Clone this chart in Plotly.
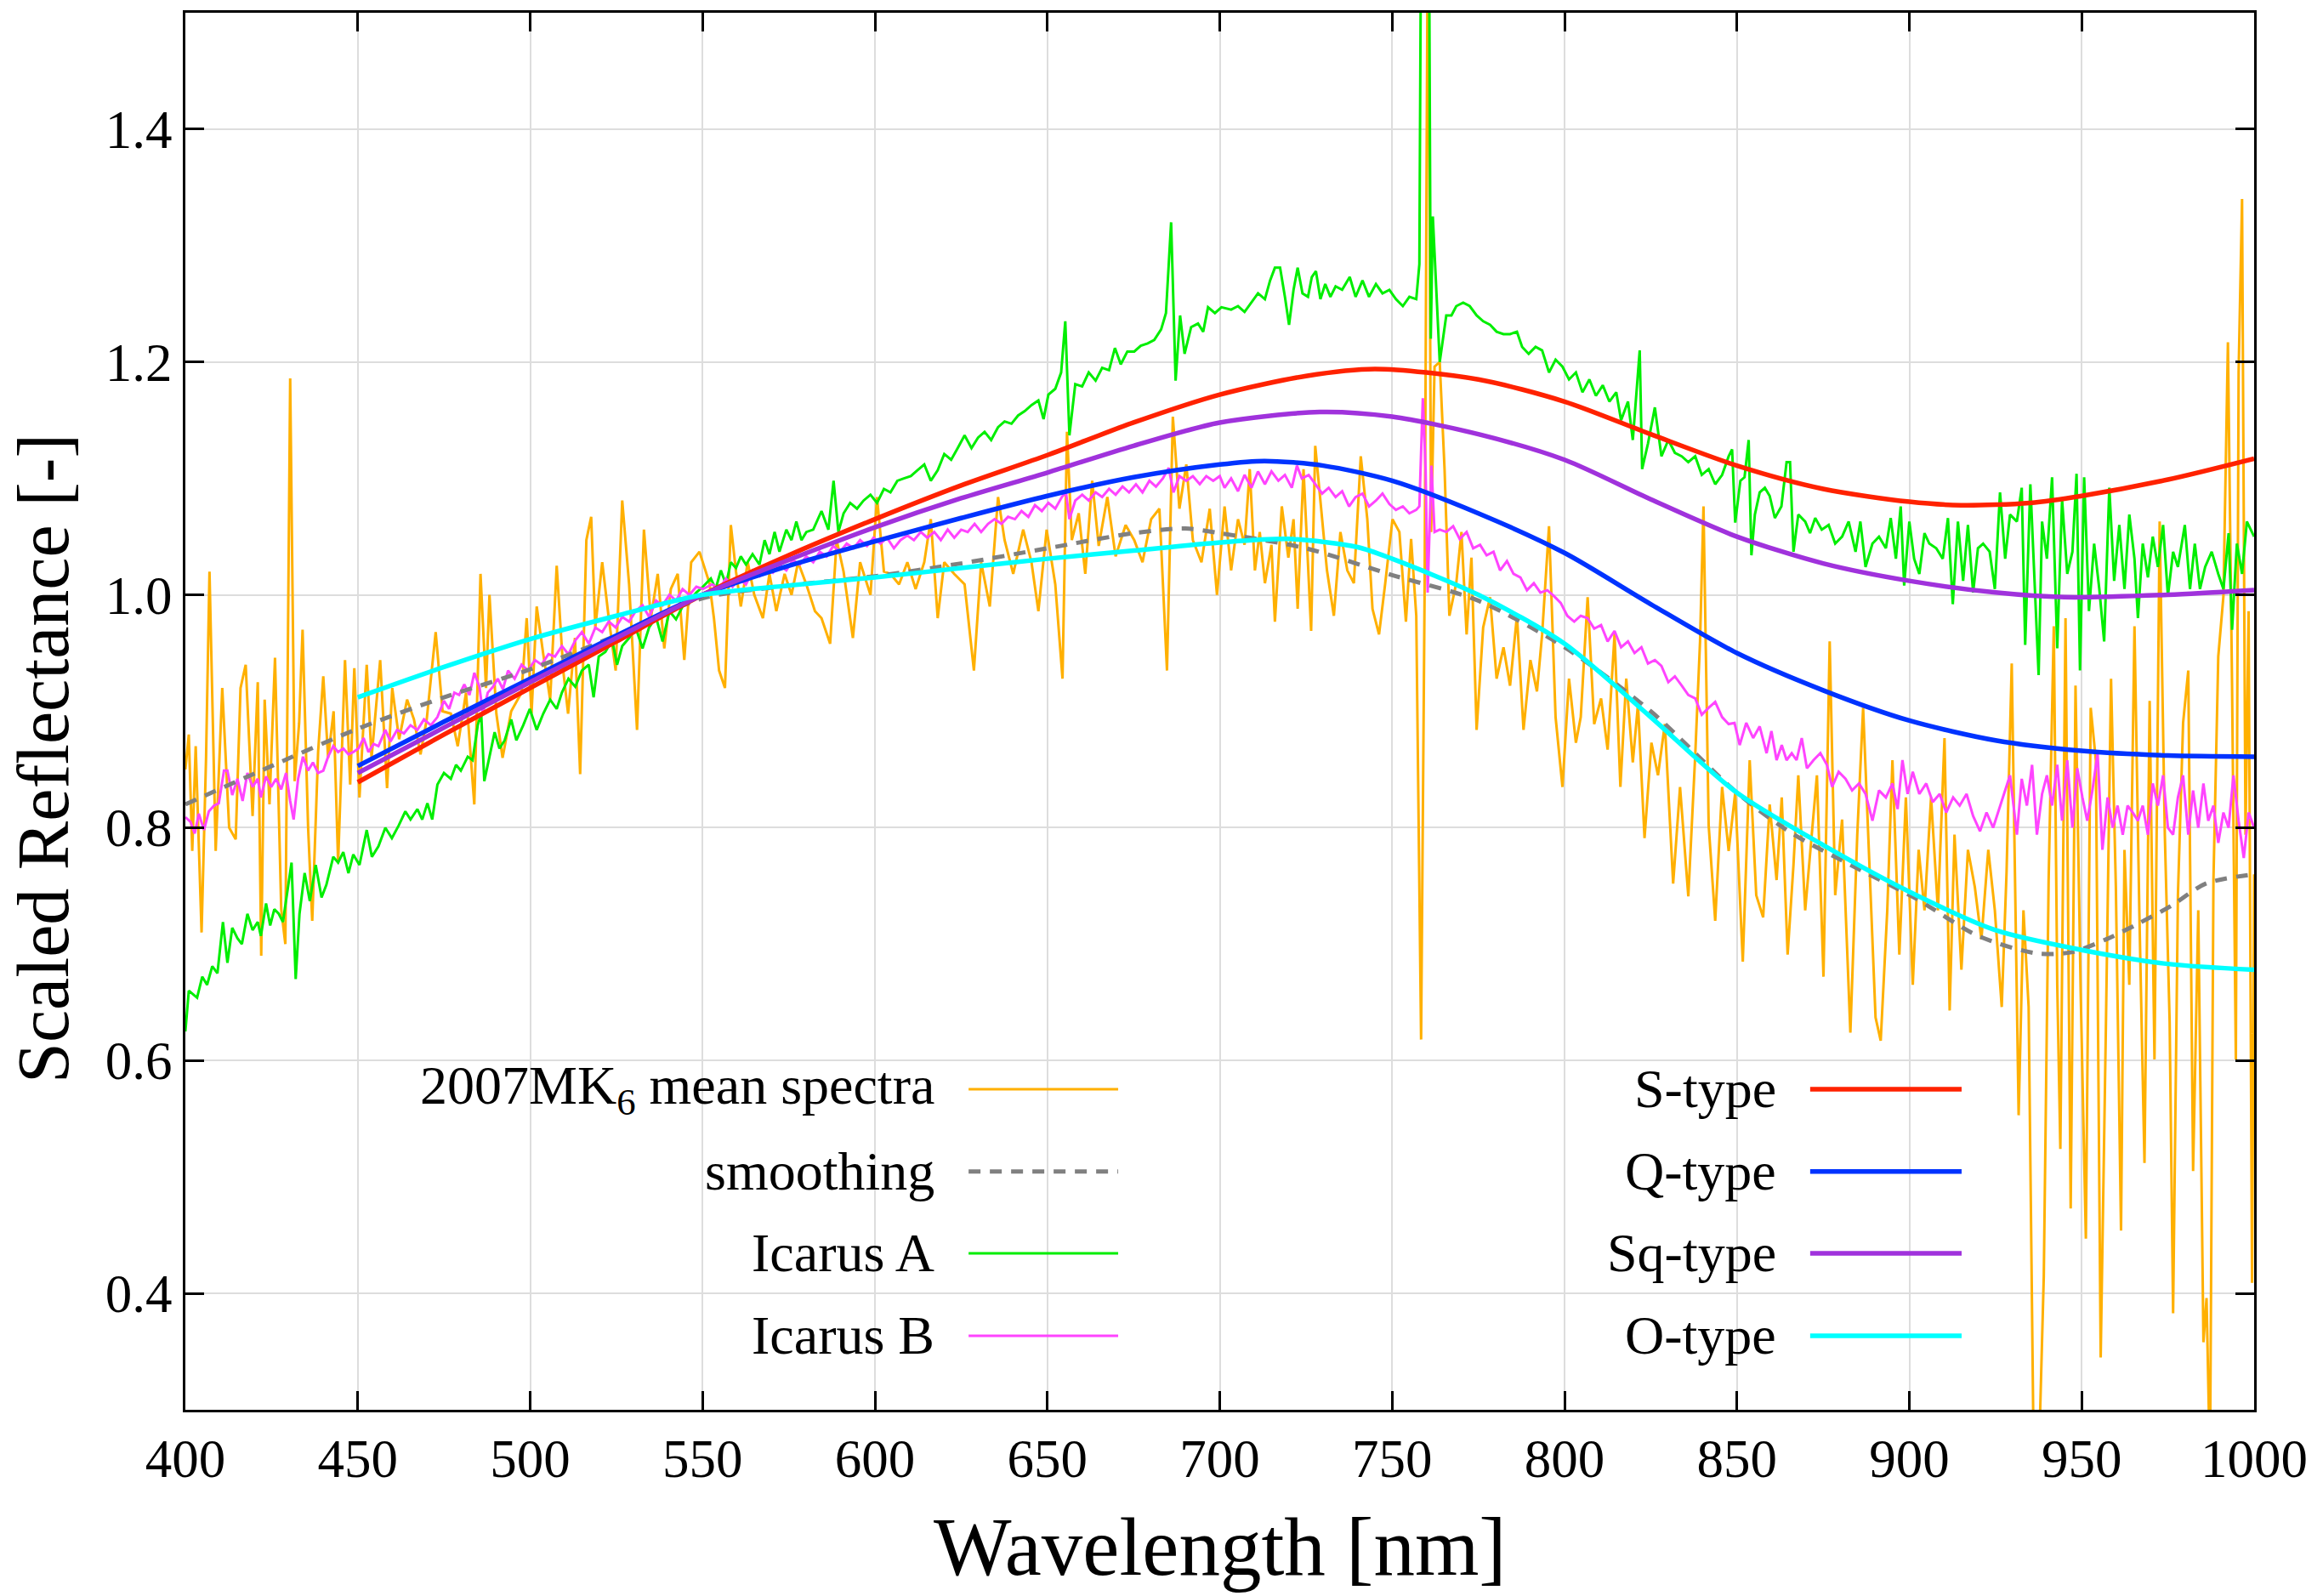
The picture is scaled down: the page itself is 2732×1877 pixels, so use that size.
import plotly.graph_objects as go

# ---------------- data ----------------
mk6_nm = [400, 401, 402, 403, 404.7, 406, 407, 408.8, 410.7, 412.7, 414.6, 416, 417.5, 419.5, 421, 422, 423, 424.4,
          426, 427.8, 429, 430.4, 431.7, 433, 434, 435.6, 436.8, 438.5, 440, 441.4, 443, 444.3, 446.3, 447.8, 449,
          450.5, 452.6, 454, 456.5, 458.5, 460, 462, 464.3, 466.3, 468.2, 470, 472.6, 474.6, 477, 479, 481.4, 483.8,
          485.6, 487.2, 488.2, 490.2, 492, 494.5, 497.5, 499, 500.4, 501.9, 503.8, 505.8, 507.7, 509.6, 511, 513,
          514.5, 516.3, 517.7, 518.9, 520.9, 522.8, 524.8, 526.7, 528.7, 531, 533, 535, 537, 538.9, 540.8, 542.8,
          544.7, 546.7, 549.1, 552, 553.3, 554.8, 556.5, 558.2, 559.7, 561.1, 563.1, 565, 567.5, 569.4, 571.4,
          573.8, 575.8, 577.7, 580.1, 582.6, 584.5, 587, 588.9, 590.9, 593.6, 595.7, 598.7, 600.6, 602.6, 604.5,
          607, 609.4, 611.8, 614.3, 616.2, 618.2, 620.1, 623, 626, 628.7, 630.8, 633.3, 635.7, 637.6, 640.1, 643,
          645.4, 647.4, 649.8, 652.3, 654.4, 655.7, 657.1, 659.1, 661, 663, 664.9, 667.4, 669.8, 672.7, 675.2,
          677.6, 680.1, 682.5, 684.7, 686.4, 688.3, 690.3, 692.2, 694.7, 697.1, 699.2, 701.4, 703.3, 705.3, 707.2,
          708.7, 710.2, 711.6, 713.1, 715, 716, 718, 719.9, 721.4, 722.6, 724.3, 726.5, 727.7, 729.7, 731.1, 733.1,
          735, 737, 738.9, 740.9, 742.8, 744.3, 746.2, 748, 750.1, 752.1, 754, 755.5, 757, 758.4, 759.4, 760.4,
          761.3, 762.3, 763.8, 765.2, 766.6, 768.6, 770.1, 771.6, 773, 774.5, 776.4, 778.4, 780.3, 782.3, 784.2,
          786.2, 788.1, 790.1, 792, 793.5, 795.5, 797.4, 799.4, 801.3, 803.3, 804.7, 806.7, 808.6, 810.6, 812.5,
          814.5, 816.2, 817.9, 819.8, 821.3, 823.2, 825.2, 827.1, 829.1, 831.5, 833.5, 835.9, 837.9, 839.3, 840.3,
          841.8, 843.7, 845.7, 847.6, 849.5, 851.7, 853.7, 855.6, 857.6, 859.5, 861.5, 863, 864.7, 866.4, 867.8,
          869.8, 871.7, 873.2, 875.1, 876.9, 878.5, 880.5, 882.9, 884.9, 886.6, 888.3, 890.2, 891.7, 893.6, 895.1,
          897.1, 899, 901, 902.7, 904.4, 906.3, 908.3, 910.2, 911.7, 913.1, 915.1, 917, 919, 920.9, 922.9, 924.8,
          926.8, 928.2, 929.7, 931.7, 933.1, 934.6, 936.1, 937.5, 939, 940.4, 941.9, 942.9, 943.8, 945.3, 946.8,
          948.2, 949.7, 951.2, 952.6, 954.1, 955.5, 957, 958.5, 959.9, 961.4, 962.4, 963.8, 965.3, 966.7, 968.2,
          969.7, 971.1, 972.6, 974.1, 975.5, 976.5, 977.9, 979.4, 980.9, 982.3, 983.8, 985.3, 986.2, 987.2, 988.2,
          989.6, 991.1, 992.4, 993.6, 994.7, 995.5, 996.5, 997.5, 998.4, 999.4, 1000]
mk6_val = [0.85, 0.88, 0.78, 0.87, 0.71, 0.86, 1.02, 0.78, 0.92, 0.80, 0.79, 0.92, 0.94, 0.81, 0.925, 0.69, 0.91, 0.82,
           0.946, 0.73, 0.70, 1.186, 0.84, 0.89, 0.97, 0.80, 0.72, 0.865, 0.93, 0.86, 0.90, 0.77, 0.944, 0.837, 0.937,
           0.826, 0.94, 0.86, 0.944, 0.834, 0.92, 0.876, 0.91, 0.893, 0.863, 0.893, 0.968, 0.90, 0.898, 0.87, 0.916,
           0.82, 1.018, 0.92, 1.0, 0.898, 0.86, 0.90, 0.916, 0.98, 0.898, 0.99, 0.949, 0.91, 1.025, 0.935, 0.898,
           0.963, 0.846, 1.047, 1.067, 0.972, 1.028, 0.98, 0.935, 1.081, 1.009, 0.884, 1.056, 0.98, 1.018, 0.954,
           1.005, 1.018, 0.944, 1.028, 1.037, 1.01, 0.98, 0.935, 0.92, 1.06, 1.02, 0.99, 1.028, 1.0, 0.98, 1.018,
           0.986, 1.018, 1.0, 1.028, 1.009, 0.986, 0.98, 0.958, 1.047, 1.02, 0.963, 1.028, 1.0, 1.084, 1.02, 1.018,
           1.009, 1.028, 1.005, 1.028, 1.065, 0.98, 1.028, 1.018, 1.009, 0.935, 1.028, 0.99, 1.084, 1.047, 1.018,
           1.056, 1.028, 0.986, 1.056, 1.009, 0.928, 1.14, 1.047, 1.07, 1.018, 1.098, 1.042, 1.084, 1.033, 1.06,
           1.047, 1.028, 1.065, 1.074, 0.935, 1.153, 1.074, 1.112, 1.047, 1.028, 1.074, 1.0, 1.076, 1.021, 1.065,
           1.043, 1.108, 1.021, 1.054, 1.01, 1.043, 0.977, 1.076, 1.032, 1.065, 0.988, 1.108, 0.969, 1.128, 1.065,
           1.021, 0.982, 1.054, 1.021, 1.01, 1.119, 1.065, 0.988, 0.966, 1.01, 1.065, 1.054, 0.977, 1.048, 0.982,
           0.618, 0.998, 1.62, 1.054, 1.196, 1.2, 1.108, 0.982, 1.01, 1.054, 0.966, 1.032, 0.884, 0.972, 0.998,
           0.928, 0.955, 0.922, 0.982, 0.884, 0.944, 0.917, 0.966, 1.059, 0.895, 0.835, 0.928, 0.873, 0.895, 0.998,
           0.889, 0.911, 0.867, 0.966, 0.835, 0.928, 0.856, 0.906, 0.791, 0.873, 0.845, 0.889, 0.752, 0.835, 0.741,
           0.862, 0.96, 1.076, 0.802, 0.72, 0.835, 0.78, 0.83, 0.685, 0.858, 0.742, 0.723, 0.82, 0.755, 0.826, 0.691,
           0.768, 0.845, 0.729, 0.794, 0.845, 0.672, 0.96, 0.742, 0.807, 0.624, 0.794, 0.903, 0.781, 0.637, 0.617,
           0.729, 0.858, 0.691, 0.826, 0.665, 0.781, 0.729, 0.826, 0.729, 0.877, 0.643, 0.794, 0.678, 0.781, 0.749,
           0.704, 0.781, 0.729, 0.646, 0.762, 0.941, 0.553, 0.729, 0.646, 0.25, 0.25, 0.415, 0.755, 0.973, 0.665,
           0.524, 0.98, 0.473, 0.922, 0.659, 0.447, 0.903, 0.858, 0.345, 0.627, 0.928, 0.749, 0.454, 0.781, 0.665,
           0.973, 0.729, 0.512, 0.909, 0.601, 1.063, 0.794, 0.633, 0.383, 0.742, 0.89, 0.935, 0.505, 0.729, 0.358,
           0.396, 0.25, 0.755, 0.947, 0.999, 1.217, 0.922, 0.601, 1.191, 1.34, 0.794, 0.986, 0.409, 0.76]

smooth_nm = [400, 425, 450, 475, 500, 525, 550, 575, 600, 625, 650, 675, 690, 700, 725, 750, 775, 800, 825, 850,
             866, 883, 902, 920, 937, 947, 957, 966, 976, 986, 1000]
smooth_val = [0.82, 0.853, 0.885, 0.912, 0.936, 0.965, 0.997, 1.008, 1.016, 1.027, 1.04, 1.053, 1.057, 1.053,
              1.04, 1.017, 0.995, 0.955, 0.9, 0.83, 0.795, 0.768, 0.739, 0.707, 0.692, 0.693, 0.704, 0.717, 0.733,
              0.752, 0.76]

icarusA_nm = [400, 401, 403.4, 404.9, 406.3, 407.8, 409.3, 410.9, 412.2, 413.6, 415.1, 416.4, 418, 419.5, 421, 421.9,
              423.4, 424.6, 425.8, 427.1, 428.3, 429.7, 430.8, 432, 433.1, 434.6, 436.1, 437.8, 439.5, 440.9, 442.9,
              444.3, 445.8, 447.3, 448.7, 450.5, 452.6, 454.1, 456, 458, 459.9, 461.9, 463.8, 465.3, 467.3, 468.7,
              470.2, 471.6, 473.1, 475, 477, 478.5, 479.9, 481.9, 483.3, 484.8, 485.8, 486.7, 488.2, 489.7, 491.1,
              492.6, 494.5, 496, 498, 499.9, 501.9, 503.8, 505.8, 507.7, 509.2, 511.1, 513.1, 515, 517, 518.4, 519.9,
              521.8, 523.8, 525.2, 526.7, 528.7, 530.6, 532.6, 534.5, 536.5, 538.4, 540.4, 542.3, 544.2, 546.2,
              548.2, 550.1, 552.4, 553.8, 555.3, 556.8, 558.2, 559.7, 561.1, 562.6, 564.5, 566.5, 568, 569.4, 570.9,
              572.3, 574.3, 575.8, 577.2, 578.7, 580.1, 582.1, 584.5, 586.5, 588, 589.4, 590.9, 592.8, 594.8, 596.7,
              598.7, 600.6, 602.6, 604.5, 606.5, 608.4, 610.4, 612.3, 614.3, 616.2, 618.2, 620.1, 622.1, 624, 626,
              628, 629.9, 631.8, 633.7, 635.7, 637.6, 639.6, 641.5, 643.5, 645.4, 647.4, 648.9, 650.3, 652.3, 654,
              655.2, 656.4, 658.1, 660.1, 662, 664, 665.9, 667.9, 669.6, 671.3, 673.2, 675.2, 677.1, 679.1, 681, 683,
              684.4, 685.9, 687.2, 688.5, 689.8, 691.7, 693.7, 695.2, 696.6, 698.6, 700.5, 703.3, 705.3, 707.2,
              709.2, 711.1, 713.1, 714.6, 716, 717.5, 718.9, 720.1, 721.4, 722.6, 724, 725.6, 726.7, 727.9, 729.2,
              730.6, 732.1, 733.6, 735.5, 737.7, 739.4, 741.4, 743.3, 745.3, 747.2, 749.2, 751.1, 753.1, 755, 757,
              757.9, 758.5, 760.6, 761.2, 761.8, 763.8, 765.7, 767.2, 768.6, 770.6, 772.5, 774.5, 776.4, 778.4,
              780.3, 782.3, 784.2, 786.2, 787.7, 789.6, 791.6, 793.5, 795.5, 797.4, 799.4, 801.3, 803.3, 805.2,
              807.2, 809.1, 811.1, 813, 815, 816.4, 818.4, 819.8, 821.8, 822.5, 824.2, 826.2, 828.1, 830.1, 832, 834,
              835.9, 837.9, 839.8, 841.8, 843.7, 845.7, 847.6, 848.6, 849.5, 851, 852.2, 853.4, 854.2, 855.2, 856.6,
              858.1, 859.5, 861, 862.9, 864.4, 865.4, 866.4, 867.8, 869.8, 871.2, 872.7, 874.6, 876.6, 878.5, 880.5,
              882.4, 884.4, 885.8, 887.3, 889.3, 891.2, 893.2, 894.6, 896.1, 897.5, 898.5, 900, 901.4, 902.9, 904.4,
              905.8, 907.8, 909.7, 911.2, 912.6, 914.1, 915.6, 917, 918.5, 919.9, 921.4, 923.3, 924.8, 926.3, 927.8,
              929.2, 931.2, 932.6, 933.6, 935.1, 936.5, 937.5, 938.5, 939.9, 941.4, 942.9, 944.3, 945.8, 947.3,
              948.5, 949.5, 950.7, 952.1, 953.6, 955.1, 956.5, 958, 959.4, 960.9, 962.4, 963.8, 965.3, 966.3, 967.7,
              969.2, 970.6, 972.1, 973.6, 975, 976.5, 977.9, 979.9, 981.4, 982.8, 984.3, 985.8, 987.7, 989.6, 991.1,
              992.6, 993.6, 995, 996.5, 997.9, 1000]
icarusA_val = [0.625, 0.66, 0.654, 0.672, 0.665, 0.681, 0.675, 0.719, 0.684, 0.714, 0.705, 0.70, 0.726, 0.712, 0.719,
               0.707, 0.735, 0.716, 0.73, 0.726, 0.719, 0.749, 0.77, 0.67, 0.726, 0.761, 0.737, 0.768, 0.74, 0.751,
               0.775, 0.77, 0.779, 0.761, 0.777, 0.768, 0.798, 0.775, 0.784, 0.80, 0.791, 0.802, 0.814, 0.807, 0.816,
               0.807, 0.821, 0.807, 0.837, 0.847, 0.842, 0.854, 0.849, 0.861, 0.858, 0.888, 0.898, 0.84, 0.861, 0.882,
               0.868, 0.875, 0.893, 0.875, 0.888, 0.902, 0.884, 0.898, 0.91, 0.902, 0.916, 0.928, 0.921, 0.935, 0.94,
               0.912, 0.947, 0.951, 0.961, 0.94, 0.956, 0.963, 0.972, 0.954, 0.972, 0.981, 0.96, 0.986, 0.979, 0.99,
               0.995, 1.002, 1.007, 1.014, 1.005, 1.021, 1.009, 1.028, 1.023, 1.033, 1.026, 1.035, 1.026, 1.047,
               1.035, 1.054, 1.037, 1.056, 1.047, 1.063, 1.047, 1.054, 1.056, 1.072, 1.056, 1.098, 1.054, 1.07,
               1.079, 1.074, 1.081, 1.086, 1.079, 1.091, 1.088, 1.098, 1.1, 1.102, 1.107, 1.112, 1.098, 1.107, 1.121,
               1.116, 1.126, 1.137, 1.126, 1.135, 1.14, 1.133, 1.144, 1.149, 1.147, 1.154, 1.158, 1.163, 1.167,
               1.151, 1.172, 1.177, 1.191, 1.235, 1.137, 1.181, 1.179, 1.191, 1.184, 1.195, 1.193, 1.212, 1.198,
               1.209, 1.209, 1.214, 1.216, 1.219, 1.228, 1.242, 1.32, 1.184, 1.24, 1.207, 1.23, 1.233, 1.226, 1.247,
               1.242, 1.247, 1.245, 1.248, 1.243, 1.251, 1.259, 1.254, 1.27, 1.281, 1.281, 1.256, 1.232, 1.262,
               1.281, 1.259, 1.256, 1.273, 1.278, 1.254, 1.267, 1.256, 1.265, 1.262, 1.273, 1.256, 1.27, 1.256,
               1.267, 1.259, 1.262, 1.254, 1.248, 1.256, 1.254, 1.284, 1.65, 1.65, 1.22, 1.325, 1.2, 1.24, 1.24,
               1.248, 1.251, 1.248, 1.24, 1.235, 1.232, 1.226, 1.224, 1.224, 1.226, 1.213, 1.207, 1.213, 1.21, 1.191,
               1.202, 1.196, 1.185, 1.191, 1.174, 1.185, 1.171, 1.18, 1.166, 1.174, 1.15, 1.166, 1.133, 1.21, 1.108,
               1.13, 1.161, 1.119, 1.133, 1.122, 1.119, 1.114, 1.119, 1.103, 1.108, 1.095, 1.103, 1.119, 1.125,
               1.062, 1.098, 1.101, 1.133, 1.034, 1.069, 1.088, 1.092, 1.085, 1.066, 1.076, 1.114, 1.114, 1.037,
               1.069, 1.063, 1.053, 1.066, 1.056, 1.06, 1.044, 1.05, 1.063, 1.037, 1.063, 1.024, 1.044, 1.05, 1.04,
               1.066, 1.031, 1.076, 1.008, 1.063, 1.031, 1.018, 1.053, 1.044, 1.04, 1.031, 1.066, 0.992, 1.063,
               1.012, 1.06, 1.002, 1.04, 1.044, 1.037, 1.005, 1.088, 1.031, 1.069, 1.063, 1.092, 0.957, 1.095,
               0.992, 0.931, 1.063, 1.031, 1.101, 0.954, 1.082, 1.018, 1.037, 1.104, 0.935, 1.101, 0.986, 1.044,
               1.005, 0.96, 1.092, 1.012, 1.06, 1.005, 1.069, 1.031, 0.98, 1.044, 1.015, 1.05, 1.024, 1.06, 0.999,
               1.037, 1.024, 1.06, 1.005, 1.044, 1.005, 1.024, 1.037, 1.018, 1.005, 1.053, 0.97, 1.044, 1.018, 1.063,
               1.05]

icarusB_nm = [400, 401.5, 402.7, 403.9, 405.4, 406.8, 408.3, 409.7, 411.2, 412.2, 413.6, 415.1, 416.6, 418, 419.5,
              421, 421.9, 423.4, 424.9, 426.3, 427.8, 429.2, 430.4, 431.4, 432.7, 434.1, 435.6, 437, 438.5, 440,
              441.4, 442.9, 444.3, 445.8, 447.3, 448.7, 450.2, 451.7, 453.1, 454.6, 456, 458, 459.5, 461.4, 463.4,
              465.3, 467.3, 469.2, 471.2, 473.1, 475, 476.5, 478, 479.4, 480.9, 482.4, 483.8, 485.3, 486.3, 487.7,
              489.2, 490.6, 492.1, 493.6, 495.5, 497.5, 499.4, 501.4, 503.3, 505.3, 507.2, 509.2, 511.1, 513.1, 515,
              517, 518.9, 520.9, 522.8, 524.8, 526.7, 528.7, 530.6, 532.6, 534.5, 536.5, 538.4, 540.4, 542.3, 544.2,
              546.2, 548.2, 550.1, 552.8, 554.8, 556.8, 558.7, 560.6, 562.6, 564.5, 566.5, 568.4, 570.4, 572.3,
              574.3, 576.2, 578.2, 580.1, 582.1, 584, 586, 587.9, 589.9, 591.8, 593.8, 595.7, 597.7, 599.6, 601.6,
              603.5, 605.5, 607.4, 609.4, 611.3, 613.3, 615.2, 617.2, 619.1, 621.1, 623, 625, 626.9, 628.9, 630.8,
              632.8, 634.7, 636.7, 638.6, 640.6, 642.5, 644.5, 646.4, 648.4, 650.3, 652.3, 654.2, 655.4, 656.4,
              658.1, 660.1, 662, 664, 665.9, 667.9, 669.8, 671.8, 673.7, 675.7, 677.6, 679.6, 681.5, 683.5, 685.2,
              686.6, 688.3, 690.3, 692.2, 694.2, 696.1, 698.1, 700, 701.4, 703.3, 705.3, 707.2, 709.2, 711.1, 713.1,
              715, 717, 718.9, 720.9, 722.4, 723.8, 725.8, 727.7, 729.7, 731.6, 733.6, 735.5, 737.5, 739.4, 741.4,
              743.3, 745.3, 747.2, 749.2, 751.1, 753.1, 755, 757, 757.9, 758.9, 759.7, 760.3, 761.4, 762.3, 763.8,
              765.7, 767.7, 769.6, 771.6, 773.5, 775.5, 777.4, 779.4, 781.3, 783.3, 785.2, 787.2, 789.1, 791.1, 793,
              795, 796.9, 798.9, 800.8, 802.8, 804.7, 806.7, 808.6, 810.6, 812.5, 814.5, 816.4, 818.4, 820.3, 822.3,
              824.2, 826.2, 828.1, 830.1, 832, 834, 835.9, 837.9, 839.8, 841.8, 843.7, 845.7, 847.6, 849.3, 850.8,
              852.7, 854.7, 856.6, 858.6, 860, 861.5, 863, 864.4, 865.9, 867.3, 868.8, 870.3, 872.2, 874.2, 876.1,
              877.6, 879.5, 881.5, 883.4, 885.4, 887.3, 889.3, 891.2, 893.2, 895.1, 896.6, 898, 899.5, 901, 902.9,
              904.9, 906.8, 908.8, 910.7, 912.7, 914.6, 916.6, 918.5, 920.5, 922.4, 924.3, 926.3, 927.8, 929.2,
              931.2, 932.6, 934.1, 935.6, 937, 938.5, 939.9, 941.4, 942.9, 944.3, 945.8, 947.3, 948.7, 950.2, 951.6,
              953.1, 954.6, 956, 957.5, 959, 960.4, 961.9, 963.3, 964.8, 966.3, 967.7, 969.2, 970.6, 972.1, 973.6,
              975, 976.5, 977.9, 979.4, 980.9, 982.3, 983.8, 985.3, 986.7, 988.2, 989.6, 991.1, 992.6, 994, 995.5,
              997, 998.4, 1000]
icarusB_val = [0.809, 0.805, 0.795, 0.812, 0.798, 0.814, 0.819, 0.821, 0.849, 0.849, 0.828, 0.842, 0.823, 0.847,
               0.835, 0.842, 0.826, 0.844, 0.835, 0.842, 0.833, 0.847, 0.823, 0.807, 0.842, 0.861, 0.849, 0.856,
               0.847, 0.849, 0.861, 0.87, 0.865, 0.868, 0.863, 0.865, 0.868, 0.877, 0.865, 0.872, 0.87, 0.884, 0.874,
               0.884, 0.881, 0.888, 0.884, 0.893, 0.888, 0.895, 0.909, 0.902, 0.916, 0.914, 0.923, 0.914, 0.933,
               0.921, 0.898, 0.916, 0.921, 0.928, 0.919, 0.935, 0.928, 0.94, 0.935, 0.944, 0.94, 0.949, 0.947, 0.956,
               0.949, 0.961, 0.968, 0.958, 0.972, 0.968, 0.977, 0.972, 0.981, 0.977, 0.986, 0.991, 0.981, 0.995,
               0.991, 1.0, 0.995, 1.005, 1.0, 1.007, 1.005, 1.009, 1.005, 1.014, 1.007, 1.014, 1.009, 1.021, 1.016,
               1.023, 1.019, 1.026, 1.021, 1.03, 1.026, 1.033, 1.028, 1.037, 1.033, 1.042, 1.037, 1.044, 1.04, 1.047,
               1.042, 1.049, 1.044, 1.049, 1.04, 1.047, 1.051, 1.047, 1.054, 1.049, 1.054, 1.047, 1.056, 1.049,
               1.056, 1.054, 1.061, 1.054, 1.061, 1.065, 1.061, 1.067, 1.065, 1.072, 1.067, 1.077, 1.072, 1.079,
               1.074, 1.084, 1.088, 1.065, 1.081, 1.086, 1.081, 1.088, 1.084, 1.091, 1.086, 1.093, 1.088, 1.095,
               1.088, 1.098, 1.093, 1.1, 1.109, 1.088, 1.102, 1.098, 1.102, 1.095, 1.102, 1.098, 1.102, 1.092, 1.1,
               1.089, 1.103, 1.092, 1.106, 1.095, 1.106, 1.098, 1.103, 1.092, 1.111, 1.1, 1.103, 1.095, 1.087,
               1.092, 1.084, 1.089, 1.076, 1.084, 1.087, 1.076, 1.081, 1.087, 1.078, 1.073, 1.076, 1.07, 1.073,
               1.076, 1.169, 1.108, 1.002, 1.111, 1.054, 1.056, 1.054, 1.059, 1.048, 1.054, 1.04, 1.043, 1.034,
               1.037, 1.021, 1.029, 1.018, 1.015, 1.004, 1.01, 1.002, 1.004, 0.999, 0.993, 0.982, 0.977, 0.982,
               0.98, 0.971, 0.974, 0.96, 0.969, 0.955, 0.96, 0.95, 0.955, 0.941, 0.944, 0.939, 0.925, 0.93, 0.922,
               0.914, 0.911, 0.897, 0.903, 0.908, 0.895, 0.889, 0.89, 0.871, 0.89, 0.877, 0.887, 0.864, 0.883,
               0.858, 0.871, 0.858, 0.864, 0.858, 0.877, 0.851, 0.858, 0.864, 0.854, 0.835, 0.848, 0.842, 0.832,
               0.838, 0.829, 0.806, 0.832, 0.826, 0.838, 0.816, 0.858, 0.829, 0.848, 0.829, 0.838, 0.822, 0.829,
               0.813, 0.826, 0.819, 0.829, 0.81, 0.797, 0.813, 0.8, 0.819, 0.832, 0.845, 0.794, 0.842, 0.819, 0.854,
               0.794, 0.829, 0.845, 0.819, 0.854, 0.806, 0.858, 0.8, 0.851, 0.826, 0.806, 0.832, 0.864, 0.781,
               0.826, 0.8, 0.819, 0.794, 0.819, 0.813, 0.806, 0.819, 0.794, 0.838, 0.819, 0.845, 0.8, 0.794, 0.826,
               0.845, 0.794, 0.832, 0.8, 0.838, 0.806, 0.819, 0.787, 0.813, 0.8, 0.845, 0.806, 0.774, 0.813, 0.8]

model_nm = {
    "S": [450, 475, 500, 525, 550, 575, 600, 625, 650, 675, 700, 725, 745, 775, 800, 825, 850, 875, 900, 915, 935,
          950, 975, 1000],
    "Q": [450, 475, 500, 525, 550, 575, 600, 625, 650, 675, 700, 713, 730, 750, 775, 800, 825, 850, 875, 900, 925,
          950, 975, 1000],
    "Sq": [450, 475, 500, 525, 550, 575, 600, 625, 650, 675, 700, 729, 750, 775, 800, 825, 850, 875, 900, 925, 945,
           975, 1000],
    "O": [450, 475, 500, 525, 550, 575, 600, 625, 650, 675, 700, 720, 740, 750, 775, 800, 825, 850, 875, 900, 925,
          950, 975, 1000],
}
s_type = [0.839, 0.880, 0.920, 0.960, 1.0, 1.034, 1.065, 1.094, 1.12, 1.148, 1.172, 1.188, 1.194, 1.185, 1.166,
          1.138, 1.111, 1.091, 1.080, 1.077, 1.079, 1.085, 1.099, 1.117]
q_type = [0.853, 0.891, 0.928, 0.965, 1.0, 1.025, 1.046, 1.066, 1.085, 1.101, 1.112, 1.115, 1.111, 1.098, 1.07,
          1.036, 0.992, 0.95, 0.918, 0.892, 0.875, 0.866, 0.862, 0.861]
sq_type = [0.847, 0.886, 0.925, 0.963, 1.0, 1.03, 1.058, 1.083, 1.105, 1.128, 1.148, 1.157, 1.153, 1.138, 1.116,
           1.082, 1.05, 1.027, 1.012, 1.002, 0.998, 1.0, 1.004]
o_type = [0.912, 0.938, 0.962, 0.982, 1.0, 1.008, 1.015, 1.023, 1.031, 1.038, 1.045, 1.048, 1.041, 1.031, 1.0,
          0.958, 0.895, 0.83, 0.785, 0.745, 0.712, 0.695, 0.683, 0.678]

x_ticks = [400, 450, 500, 550, 600, 650, 700, 750, 800, 850, 900, 950, 1000]
y_ticks = [0.4, 0.6, 0.8, 1.0, 1.2, 1.4]

# ---------------- styles ----------------
FONT = "Liberation Serif, Times New Roman, serif"
C_MK6, C_SM, C_A, C_B = "#ffb000", "#808080", "#00ee00", "#ff44ff"
C_S, C_Q, C_SQ, C_O = "#ff2200", "#0033ff", "#a032dc", "#00ffff"
DASH = "14px,11px"

fig = go.Figure()
fig.add_trace(go.Scatter(x=mk6_nm, y=mk6_val, mode="lines", line=dict(color=C_MK6, width=3)))
fig.add_trace(go.Scatter(x=icarusA_nm, y=icarusA_val, mode="lines", line=dict(color=C_A, width=3)))
fig.add_trace(go.Scatter(x=icarusB_nm, y=icarusB_val, mode="lines", line=dict(color=C_B, width=3)))
fig.add_trace(go.Scatter(x=smooth_nm, y=smooth_val, mode="lines",
                         line=dict(color=C_SM, width=5, dash=DASH, shape="spline", smoothing=0.8)))
for key, vals, col in [("S", s_type, C_S), ("Q", q_type, C_Q), ("Sq", sq_type, C_SQ), ("O", o_type, C_O)]:
    fig.add_trace(go.Scatter(x=model_nm[key], y=vals, mode="lines",
                             line=dict(color=col, width=5.5, shape="spline", smoothing=0.8)))

# ---------------- custom gnuplot-style key ----------------
shapes = [dict(type="rect", xref="paper", yref="paper", x0=0.0592, x1=0.8746, y0=0.0231, y1=0.2593,
               fillcolor="white", line=dict(width=0), layer="between")]
annotations = []
rows_y = [0.2295, 0.1705, 0.1120, 0.0530]
left = [("2007MK<sub>6</sub> mean spectra", C_MK6, 3, "solid"), ("smoothing", C_SM, 5, DASH),
        ("Icarus A", C_A, 3, "solid"), ("Icarus B", C_B, 3, "solid")]
right = [("S-type", C_S, 5.5, "solid"), ("Q-type", C_Q, 5.5, "solid"),
         ("Sq-type", C_SQ, 5.5, "solid"), ("O-type", C_O, 5.5, "solid")]
for entries, tx, lx0, lx1 in [(left, 0.3629, 0.3786, 0.4509), (right, 0.7698, 0.7854, 0.8586)]:
    for (label, col, w, dash), yy in zip(entries, rows_y):
        annotations.append(dict(xref="paper", yref="paper", x=tx, y=yy, text=label, showarrow=False,
                                xanchor="right", yanchor="middle", font=dict(family=FONT, size=64, color="black")))
        shapes.append(dict(type="line", xref="paper", yref="paper", x0=lx0, x1=lx1, y0=yy, y1=yy,
                           line=dict(color=col, width=w, dash=dash), layer="above"))

annotations.append(dict(xref="paper", yref="paper", x=0.5, y=-0.0986, text="Wavelength [nm]", showarrow=False,
                        xanchor="center", yanchor="middle", font=dict(family=FONT, size=97, color="black")))
annotations.append(dict(xref="paper", yref="paper", x=-0.0687, y=0.4662, text="Scaled Reflectance [-]",
                        showarrow=False, textangle=-90, xanchor="center", yanchor="middle",
                        font=dict(family=FONT, size=86, color="black")))

axis_common = dict(showline=True, linecolor="black", linewidth=3, mirror="ticks", ticks="inside", ticklen=22,
                   tickwidth=3, tickcolor="black", showgrid=True, gridcolor="#dddddd", gridwidth=2,
                   zeroline=False, tickfont=dict(family=FONT, size=63, color="black"))

fig.update_layout(
    width=2732, height=1877, margin=dict(l=218, r=81, t=15, b=219),
    paper_bgcolor="white", plot_bgcolor="white", showlegend=False,
    xaxis=dict(range=[400, 1000], tickvals=x_ticks, ticktext=[str(v) for v in x_ticks], **axis_common),
    yaxis=dict(range=[0.3, 1.5], tickvals=y_ticks, ticktext=[f"{v:.1f}" for v in y_ticks], **axis_common),
    shapes=shapes, annotations=annotations,
)
fig.write_html("out.html")
